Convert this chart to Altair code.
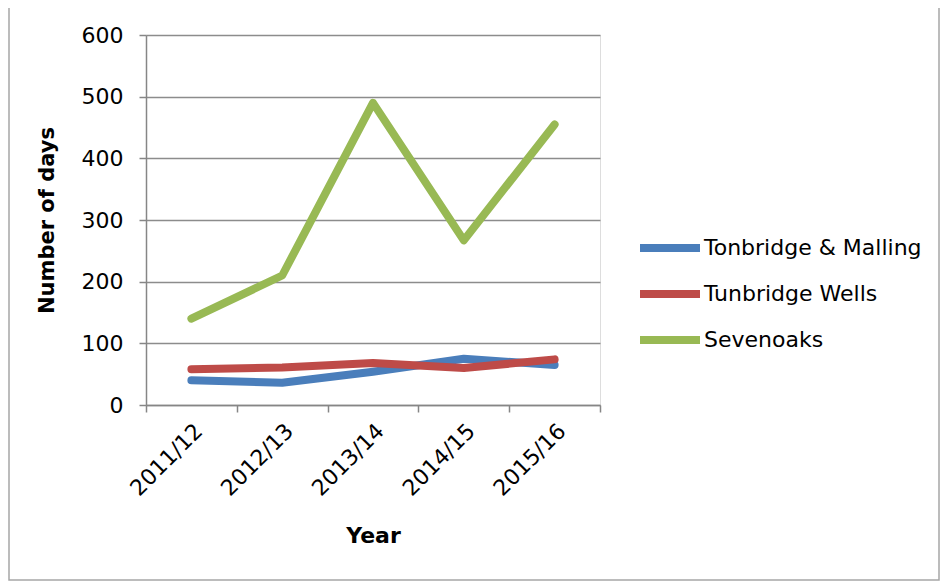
import altair as alt
import pandas as pd

years = ["2011/12", "2012/13", "2013/14", "2014/15", "2015/16"]
tonbridge = [40, 36, 54, 75, 65]
tunbridge = [58, 61, 68, 60, 74]
sevenoaks = [140, 210, 490, 267, 455]
series_names = ["Tonbridge & Malling", "Tunbridge Wells", "Sevenoaks"]
series_colors = ["#4a7ebb", "#be4b48", "#98b954"]

rows = []
for name, vals in zip(series_names, [tonbridge, tunbridge, sevenoaks]):
    for y, v in zip(years, vals):
        rows.append({"Year": y, "Days": v, "Series": name})
df = pd.DataFrame(rows)

FONT = "DejaVu Sans"
FS = 22

lines = alt.Chart(df).mark_line(strokeWidth=8, strokeCap="round", strokeJoin="round").encode(
    x=alt.X("Year:N", sort=years, scale=alt.Scale(paddingInner=0, paddingOuter=0),
            axis=alt.Axis(title="Year", labelAngle=-45, tickBand="extent", labelFontSize=FS,
                          titleFontSize=22, titleFontWeight="bold", titlePadding=26,
                          tickSize=7, labelPadding=8, domainColor="#868686", tickColor="#868686",
                          domainWidth=1.5, tickWidth=1.5, labelColor="black", titleColor="black",
                          labelFont=FONT, titleFont=FONT, grid=False)),
    y=alt.Y("Days:Q", scale=alt.Scale(domain=[0, 600]),
            axis=alt.Axis(title="Number of days", values=[0, 100, 200, 300, 400, 500, 600],
                          labelFontSize=FS, titleFontSize=21, titleFontWeight="bold",
                          tickSize=7, labelPadding=16, titlePadding=24,
                          domainColor="#868686", tickColor="#868686", gridColor="#8c8c8c",
                          gridWidth=1.5, domainWidth=1.5, tickWidth=1.5,
                          labelColor="black", titleColor="black", labelFont=FONT, titleFont=FONT)),
    color=alt.Color("Series:N", sort=series_names,
                    scale=alt.Scale(domain=series_names, range=series_colors),
                    legend=alt.Legend(title=None, orient="none", legendX=490, legendY=200,
                                      symbolType="stroke", symbolSize=3600, symbolStrokeWidth=8,
                                      labelFontSize=FS, labelFont=FONT, labelColor="black",
                                      clipHeight=26, rowPadding=20, labelOffset=0, labelLimit=400)),
    order=alt.value(0),
)

border = alt.Chart(pd.DataFrame({"a": [0]})).mark_rect(
    fill=None, stroke="#a6a6a6", strokeWidth=1.5, clip=False
).encode(
    x=alt.value(-137), x2=alt.value(793), y=alt.value(-29), y2=alt.value(545)
)

chart = alt.layer(border, lines).properties(
    width=454, height=370,
    autosize=alt.AutoSizeParams(type="none"),
    padding={"left": 138, "top": 27, "right": 342, "bottom": 176},
).configure_view(stroke=None).configure(background="white")

chart.save("out.html", embed_options={"renderer": "svg", "actions": False})
